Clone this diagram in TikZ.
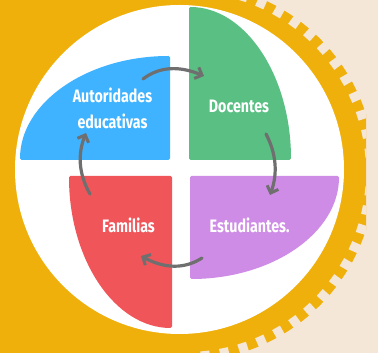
\documentclass[tikz,border=0pt]{standalone}
\usepackage{fontspec}
\setmainfont{Fira Sans}
\definecolor{ringy}{HTML}{F0B00C}
\definecolor{beigeb}{HTML}{F5E7D8}
\definecolor{blueq}{HTML}{3FB3FF}
\definecolor{greenq}{HTML}{5ABF83}
\definecolor{purpleq}{HTML}{CF8CE6}
\definecolor{redq}{HTML}{F0555A}
\definecolor{arrowg}{HTML}{6F6F6F}
\usetikzlibrary{arrows.meta}
\tikzset{
  quad/.style={rounded corners=1.5pt},
  lbl/.style={text=white,font=\fontsize{18}{26}\selectfont\bfseries,align=center,xscale=0.79,transform shape,inner sep=0pt},
  cyc/.style={draw=arrowg,line width=3.2pt,line cap=round,-{Straight Barb[length=6pt,width=12pt,line width=3pt]}}
}
\begin{document}
\begin{tikzpicture}[x=1pt,y=1pt]
\useasboundingbox (0,0) rectangle (378,353);
\fill[beigeb] (0,0) rectangle (378,353);
\begin{scope}
\clip (0,0) rectangle (366,353);
\fill[ringy] (186,181) circle[radius=189];
\fill[ringy] (0,0) rectangle (186,353);
\foreach \a in {72,66,...,-84}{
  \draw[beigeb,line width=9pt] ({186+180*cos(\a)},{181+180*sin(\a)}) -- ({186+190*cos(\a)},{181+190*sin(\a)});
}
\end{scope}
\fill[white] (179.5,183.5) circle[radius=164.5];
\fill[greenq,quad] (189,193) -- (189,346) arc[x radius=102,y radius=153,start angle=90,end angle=0] -- cycle;
\fill[blueq,quad] (170,193) -- (20,193) arc[x radius=150,y radius=104,start angle=180,end angle=90] -- cycle;
\fill[purpleq,quad] (190,177) -- (339,177) arc[x radius=149,y radius=103,start angle=0,end angle=-90] -- cycle;
\fill[redq,quad] (172,177) -- (69,177) arc[x radius=103,y radius=152,start angle=180,end angle=270] -- cycle;
\node[lbl] (aut) at (112.5,245) {Autoridades\\educativas};
\node[lbl] (doc) at (239,247) {Docentes};
\node[lbl] (est) at (249.5,128) {Estudiantes.};
\node[lbl] (fam) at (128.5,128) {Familias};
\coordinate (a1) at (143,274);
\coordinate (a2) at (204,277);
\coordinate (b1) at (266,219);
\coordinate (b2) at (270,158);
\coordinate (c1) at (202,95);
\coordinate (c2) at (141,97);
\coordinate (d1) at (90,159);
\coordinate (d2) at (86,220);
\draw[cyc] (a1) .. controls (160,287) and (180,287) .. (a2);
\draw[cyc] (b1) .. controls (276,200) and (278,180) .. (b2);
\draw[cyc] (c1) .. controls (185,84) and (165,84) .. (c2);
\draw[cyc] (d1) .. controls (78,180) and (78,200) .. (d2);
\end{tikzpicture}
\end{document}
